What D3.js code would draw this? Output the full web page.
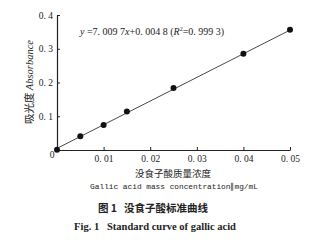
<!DOCTYPE html>
<html>
<head>
<meta charset="utf-8">
<script src="https://cdn.jsdelivr.net/npm/d3@7"></script>
<style>
  body { margin: 0; background: #fff; }
  text { fill: #222; }
</style>
</head>
<body>
<svg width="330" height="240"></svg>
<script>
// measured points
var conc = [0, 0.005, 0.01, 0.015, 0.025, 0.04, 0.05];
var absorb = [0.001, 0.041, 0.074, 0.114, 0.184, 0.285, 0.356];
// fit line y = a x + b
var fitA = 7.0097, fitB = 0.0048;
var xTicks = [0.01, 0.02, 0.03, 0.04, 0.05];
var yTicks = [0.1, 0.2, 0.3, 0.4];

var svg = d3.select("svg");
var x = d3.scaleLinear().domain([0, 0.05]).range([57, 290]);
var y = d3.scaleLinear().domain([0, 0.4]).range([150, 15]);

var serif = "'Liberation Serif', 'DejaVu Serif', serif";

// axes, ticks point inward
var xAxis = svg.append("g").attr("transform", "translate(0,150)")
    .call(d3.axisBottom(x).tickValues(xTicks).tickSizeInner(-3).tickSizeOuter(0)
      .tickFormat(function(d) { return d3.format(".2f")(d).replace(".", ". "); }));
var yAxis = svg.append("g").attr("transform", "translate(57,0)")
    .call(d3.axisLeft(y).tickValues(yTicks).tickSizeInner(-3).tickSizeOuter(0)
      .tickFormat(function(d) { return d3.format(".1f")(d).replace(".", ". "); }));
[xAxis, yAxis].forEach(function(a) {
  a.select(".domain").attr("stroke", "#222").attr("stroke-width", 1.2);
  a.selectAll(".tick line").attr("stroke", "#222");
  a.selectAll(".tick text").attr("font-family", serif).attr("font-size", 9.5).attr("fill", "#333");
});
xAxis.selectAll(".tick text").attr("y", 5);
yAxis.selectAll(".tick text").attr("x", -4);
svg.append("text").attr("x", 52).attr("y", 158).attr("text-anchor", "middle")
  .attr("font-family", serif).attr("font-size", 9.5).attr("fill", "#333").text("0");

// fit line
var line = d3.line().x(function(d) { return x(d); }).y(function(d) { return y(fitA * d + fitB); });
svg.append("path").datum([0, 0.05]).attr("d", line)
  .attr("fill", "none").attr("stroke", "#333").attr("stroke-width", 0.9);

svg.selectAll("circle.pt").data(conc).enter().append("circle")
  .attr("class", "pt")
  .attr("cx", function(d) { return x(d); })
  .attr("cy", function(d, i) { return y(absorb[i]); })
  .attr("r", 3).attr("fill", "#111");

// equation
var eq = svg.append("text").attr("x", 80).attr("y", 35)
  .attr("font-family", serif).attr("font-size", 10).attr("fill", "#222")
  .attr("xml:space", "preserve");
eq.append("tspan").attr("font-style", "italic").text("y ");
eq.append("tspan").text("=7. 009 7");
eq.append("tspan").attr("font-style", "italic").text("x");
eq.append("tspan").text("+0. 004 8 (");
eq.append("tspan").attr("font-style", "italic").text("R");
eq.append("tspan").attr("font-size", 6).attr("dy", -4).text("2");
eq.append("tspan").attr("dy", 4).text("=0. 999 3)");

// y label
var yl = svg.append("text").attr("transform", "translate(33,82) rotate(-90)")
  .attr("text-anchor", "middle").attr("font-size", 10.5).attr("fill", "#333");
yl.append("tspan").attr("font-family", "'Noto Sans CJK SC'").text("吸光度 ");
yl.append("tspan").attr("font-family", serif).attr("font-style", "italic").text("Absorbance");

// x label
svg.append("text").attr("x", 173).attr("y", 177).attr("text-anchor", "middle")
  .attr("font-family", "'Noto Sans CJK SC'").attr("font-size", 9.5).attr("fill", "#333")
  .text("没食子酸质量浓度");
svg.append("text").attr("x", 174).attr("y", 189).attr("text-anchor", "middle")
  .attr("font-family", "'Liberation Mono', monospace").attr("font-size", 7.8).attr("fill", "#333")
  .text("Gallic acid mass concentration\u2225mg/mL");

// captions
svg.append("text").attr("x", 153).attr("y", 212).attr("text-anchor", "middle")
  .attr("font-family", "'Noto Sans CJK SC'").attr("font-weight", "bold").attr("font-size", 10.5)
  .attr("xml:space", "preserve").text("图 1   没食子酸标准曲线");
svg.append("text").attr("x", 155).attr("y", 230).attr("text-anchor", "middle")
  .attr("font-family", serif).attr("font-weight", "bold").attr("font-size", 10.5)
  .attr("xml:space", "preserve").text("Fig. 1   Standard curve of gallic acid");
</script>
</body>
</html>
